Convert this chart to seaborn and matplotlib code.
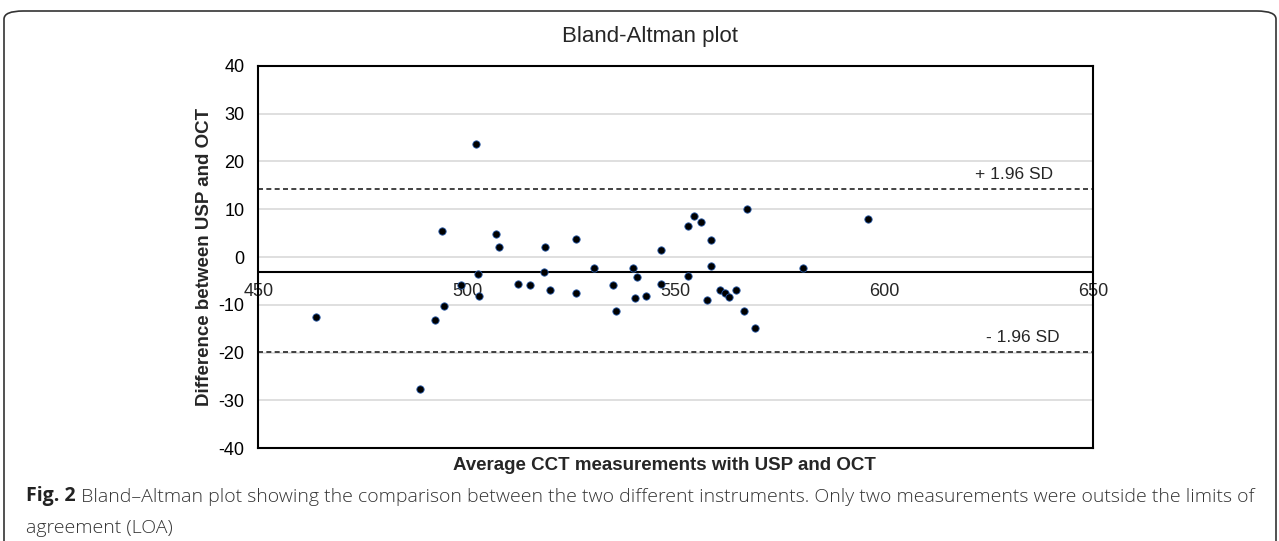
import numpy as np
import pandas as pd
import seaborn as sns
import matplotlib.pyplot as plt
from matplotlib.patches import FancyBboxPatch

# values
avg_cct = [463.7, 488.8, 492.3, 493.9, 494.5, 498.6, 502.1, 502.5, 502.9, 507.0,
           507.7, 512.2, 515.1, 518.4, 518.7, 519.9, 526.2, 526.2, 530.5, 535.0,
           535.7, 539.8, 540.3, 540.8, 542.9, 546.5, 546.5, 552.8, 552.9, 554.4,
           556.0, 557.5, 558.4, 558.4, 560.5, 561.8, 562.8, 564.5, 566.4, 567.0,
           569.0, 580.5, 596.0]
diff_cct = [-12.5, -27.5, -13.2, 5.5, -10.2, -5.8, 23.7, -3.5, -8.2, 4.8,
            2.1, -5.6, -5.9, -3.1, 2.1, -7.0, 3.8, -7.6, -2.2, -5.9,
            -11.2, -2.2, -8.6, -4.2, -8.2, 1.5, -5.6, 6.5, -3.9, 8.5,
            7.4, -8.9, 3.5, -1.9, -6.9, -7.6, -8.3, -6.9, -11.2, 10.1,
            -14.8, -2.2, 8.0]
mean_diff = -3.2
upper_loa = 14.2
lower_loa = -19.9
x_ticks = [450, 500, 550, 600, 650]
y_ticks = [-40, -30, -20, -10, 0, 10, 20, 30, 40]

df = pd.DataFrame({'avg': avg_cct, 'diff': diff_cct})

sns.set_style('white')
plt.rcParams['font.family'] = ['Liberation Sans', 'DejaVu Sans']
plt.rcParams['axes.unicode_minus'] = False

fig = plt.figure(figsize=(12.79, 5.41), dpi=100)
ax = fig.add_axes([0.2020, 0.1713, 0.6528, 0.7073])

for v in y_ticks[1:-1]:
    ax.axhline(v, color='#d9d9d9', lw=1.2, zorder=0)

ax.axhline(mean_diff, color='black', lw=1.5, zorder=1)
for v in (upper_loa, lower_loa):
    ax.axhline(v, color='#222222', lw=1.2, ls=(0, (3, 2)), zorder=1)

sns.scatterplot(data=df, x='avg', y='diff', ax=ax, s=28, color='black',
                edgecolor='#2a5caa', linewidth=0.6, zorder=3)

ax.set_xlim(x_ticks[0], x_ticks[-1])
ax.set_ylim(y_ticks[0], y_ticks[-1])
ax.set_yticks(y_ticks)
ax.set_xticks([])
ax.tick_params(axis='y', length=0, pad=10, labelsize=13, colors='black')
for s in ax.spines.values():
    s.set_visible(True)
    s.set_color('black')
    s.set_linewidth(1.5)

# x tick labels sit on the mean line, as in the original
sec = ax.secondary_xaxis((mean_diff - y_ticks[0]) / (y_ticks[-1] - y_ticks[0]))
sec.set_xticks(x_ticks)
sec.tick_params(length=0, pad=8, labelsize=13)
sec.spines['bottom'].set_visible(False)

ax.set_xlabel('Average CCT measurements with USP and OCT', fontsize=13.5, fontweight='bold')
ax.set_ylabel('Difference between USP and OCT', fontsize=13.5, fontweight='bold')
ax.xaxis.set_label_coords(0.486, -0.023)
ax.yaxis.set_label_coords(-0.054, 0.5)

ax.annotate('+ 1.96 SD', xy=(0.952, upper_loa), xycoords=('axes fraction', 'data'),
            xytext=(0, 5), textcoords='offset points', ha='right', va='bottom', fontsize=12.5)
ax.annotate('- 1.96 SD', xy=(0.96, lower_loa), xycoords=('axes fraction', 'data'),
            xytext=(0, 5), textcoords='offset points', ha='right', va='bottom', fontsize=12.5)

fig.text(650 / 1279, 1 - 36.7 / 541, 'Bland-Altman plot', ha='center', va='center', fontsize=16)

# outer frame and caption
frame = FancyBboxPatch((4 / 1279, -0.05), 1272 / 1279, 1.05 - 11 / 541,
                       boxstyle='round,pad=0,rounding_size=0.015', transform=fig.transFigure,
                       fill=False, edgecolor='#333333', lw=1.2)
fig.patches.append(frame)

cap_font = ['Open Sans', 'DejaVu Sans']
bold = fig.text(26 / 1279, 1 - 496 / 541, 'Fig. 2', fontsize=14, fontweight='bold',
                family=cap_font, color='#222222', va='center')
plt.annotate(' Bland\u2013Altman plot showing the comparison between the two different instruments. '
             'Only two measurements were outside the limits of',
             xy=(1, 0), xycoords=bold, va='bottom', ha='left', fontsize=14,
             family=cap_font, color='#333333', fontweight='light',
             annotation_clip=False)
fig.text(26 / 1279, 1 - 528 / 541, 'agreement (LOA)', fontsize=14, family=cap_font,
         color='#333333', va='center', fontweight='light')

fig.savefig('out.png', dpi=100)
